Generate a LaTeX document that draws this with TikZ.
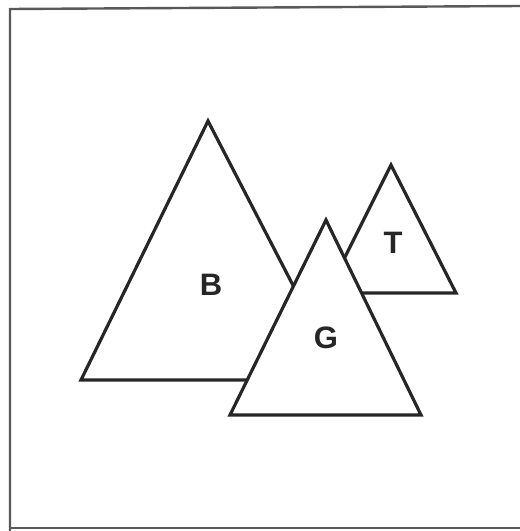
\documentclass[tikz,border=0pt]{standalone}
\usepackage{fontspec}
\setmainfont{Liberation Sans}
\begin{document}
\begin{tikzpicture}[x=1pt,y=-1pt,
  tri/.style={draw=black!85,line width=3.2pt,fill=white,line join=miter},
  frame/.style={draw=black!65,line width=2.4pt},
  lbl/.style={font=\fontsize{31}{31}\selectfont\bfseries,text=black!85,inner sep=0pt,anchor=center}]
\useasboundingbox (0,0) rectangle (520,531);
% frame (cropped on the right)
\draw[frame] (10,531) -- (10,9) -- (520,6);
\draw[frame] (10,528) -- (520,528);
% triangles
\draw[tri] (208,121) -- (342,380) -- (81,380) -- cycle;
\draw[tri] (391,165) -- (456,293) -- (327,293) -- cycle;
\draw[tri] (326,220) -- (421,415) -- (230,415) -- cycle;
% labels
\node[lbl] (b) at (211,285) {B};
\node[lbl] (g) at (326,338) {G};
\node[lbl] (t) at (393,243) {T};
\end{tikzpicture}
\end{document}
